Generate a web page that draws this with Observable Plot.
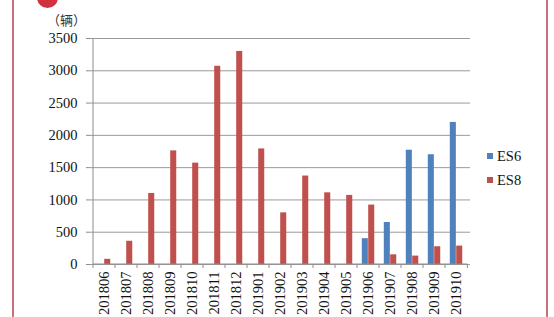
<!DOCTYPE html>
<html>
<head>
<meta charset="utf-8">
<script src="https://cdn.jsdelivr.net/npm/d3@7"></script>
<script src="https://cdn.jsdelivr.net/npm/@observablehq/plot@0.6"></script>
<style>
  html, body { margin: 0; padding: 0; background: #fff; }
  #wrap { position: relative; width: 554px; height: 317px; overflow: hidden; background: #fff; }
  #chart { position: absolute; left: 0; top: 0; }
  #chart svg, #chart svg text { font-family: "Liberation Serif", "Times New Roman", "DejaVu Serif", serif !important; }
  .frameL, .frameR { position: absolute; top: 0; width: 1.5px; height: 317px; background: #c9707a; }
  .frameL { left: 12px; }
  .frameR { left: 546px; }
  #logo { position: absolute; left: 37px; top: -13px; width: 21px; height: 21px; border-radius: 50%; background: #d0313d; }
  #unit { position: absolute; left: 47px; top: 10px; font: 13px "Noto Sans CJK SC", sans-serif; color: #333; }
  #legend { position: absolute; left: 487px; top: 144px; font-size: 14.5px; font-family: "Liberation Serif", "Times New Roman", "DejaVu Serif", serif; color: #111; }
  .li { display: flex; align-items: center; height: 24px; }
  .sw { width: 6px; height: 6px; margin-right: 4px; }
</style>
</head>
<body>
<div id="wrap">
  <div id="chart"></div>
  <div class="frameL"></div>
  <div class="frameR"></div>
  <div id="logo"></div>
  <div id="unit">（辆）</div>
  <div id="legend"></div>
</div>
<script>
const months = ["201806","201807","201808","201809","201810","201811","201812","201901","201902","201903","201904","201905","201906","201907","201908","201909","201910"];
const es6 = [null,null,null,null,null,null,null,null,null,null,null,null,400,650,1770,1700,2200];
const es8 = [80,360,1100,1760,1570,3070,3300,1790,800,1370,1110,1070,920,150,130,275,285];
const seriesNames = ["ES6","ES8"];
const seriesColors = ["#4F81BD","#C0504D"];
const yTicks = [0,500,1000,1500,2000,2500,3000,3500];

const rows = months.map((m, i) => ({month: m, es6: es6[i], es8: es8[i]}));

// axis lines + category boundary ticks, positioned through the scales
function axisDecor(index, scales, values, dimensions) {
  const g = d3.create("svg:g");
  const x = scales.x, y = scales.y;
  const step = (dimensions.width - dimensions.marginLeft - dimensions.marginRight) / months.length;
  const y0 = y(0);
  const left = x(months[0]);
  const right = x(months[months.length - 1]) + step;
  g.append("line").attr("x1", left).attr("x2", left).attr("y1", y(3500)).attr("y2", y0)
    .attr("stroke", "#8c8c8c");
  g.append("line").attr("x1", left).attr("x2", right).attr("y1", y0).attr("y2", y0)
    .attr("stroke", "#8c8c8c");
  const edges = months.map(m => x(m)).concat([right]);
  for (const e of edges) {
    g.append("line").attr("x1", e).attr("x2", e).attr("y1", y0).attr("y2", y0 + 4)
      .attr("stroke", "#8c8c8c");
  }
  return g.node();
}

const plot = Plot.plot({
  width: 554,
  height: 317,
  marginLeft: 90,
  marginRight: 84,
  marginTop: 38,
  marginBottom: 53,
  style: {fontFamily: "'Liberation Serif', 'Times New Roman', 'DejaVu Serif', serif", fontSize: "14.5px", color: "#111", background: "transparent"},
  x: {type: "band", domain: months, paddingInner: 0, paddingOuter: 0},
  y: {domain: [0, 3500]},
  marks: [
    Plot.gridY(yTicks, {stroke: "#9a9a9a", strokeOpacity: 1}),
    Plot.barY(rows.filter(d => d.es6 != null), {x: "month", y: "es6", fill: seriesColors[0], insetLeft: 4.8, insetRight: 11.15}),
    Plot.barY(rows, {x: "month", y: "es8", fill: seriesColors[1], insetLeft: 11.2, insetRight: 4.75}),
    Plot.axisY({ticks: yTicks, tickSize: 4, tickPadding: 9, stroke: "#8c8c8c", fontSize: 14.5, tickFormat: d => String(d)}),
    Plot.axisX({tickRotate: -90, tickSize: 0, tickPadding: 7, fontSize: 14.5, label: null}),
    axisDecor
  ]
});
document.getElementById("chart").appendChild(plot);

const legend = document.getElementById("legend");
seriesNames.forEach((s, i) => {
  const li = document.createElement("div");
  li.className = "li";
  const sw = document.createElement("div");
  sw.className = "sw";
  sw.style.background = seriesColors[i];
  li.appendChild(sw);
  li.appendChild(document.createTextNode(s));
  legend.appendChild(li);
});
</script>
</body>
</html>
